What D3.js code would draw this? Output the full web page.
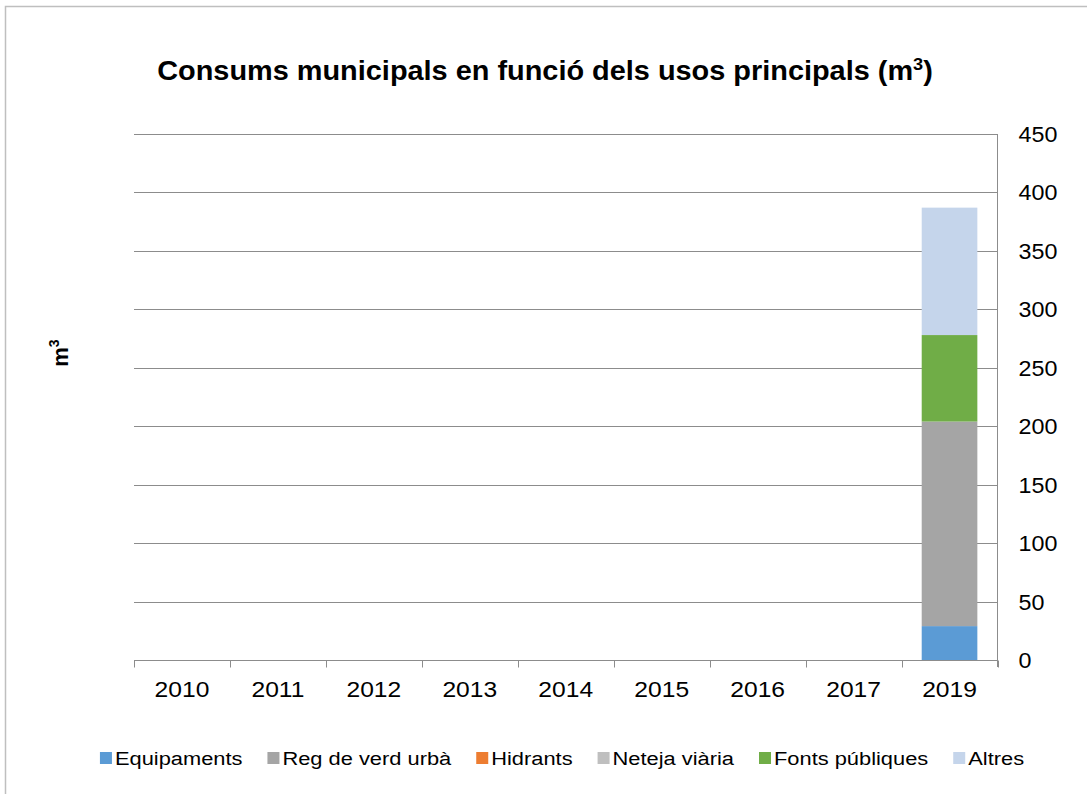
<!DOCTYPE html>
<html><head><meta charset="utf-8">
<script src="https://cdn.jsdelivr.net/npm/d3@7"></script>
<style>body{margin:0;background:#fff}svg{display:block}text{font-family:Arial,"Liberation Sans",sans-serif}</style>
</head><body>
<svg id="c" width="1087" height="794"></svg>
<script>
const years = ["2010","2011","2012","2013","2014","2015","2016","2017","2019"];
const seriesNames = ["Equipaments","Reg de verd urbà","Hidrants","Neteja viària","Fonts públiques","Altres"];
const seriesColors = ["#5B9BD5","#A5A5A5","#ED7D31","#BFBFBF","#70AD47","#C5D5EB"];
const equipaments = [0,0,0,0,0,0,0,0,29];
const regVerd     = [0,0,0,0,0,0,0,0,175];
const hidrants    = [0,0,0,0,0,0,0,0,0];
const netejaViaria= [0,0,0,0,0,0,0,0,0];
const fontsPubliques=[0,0,0,0,0,0,0,0,74];
const altres      = [0,0,0,0,0,0,0,0,109];
const yTicks = [0,50,100,150,200,250,300,350,400,450];
const titleText = "Consums municipals en funció dels usos principals (m";

const seriesVals = [equipaments,regVerd,hidrants,netejaViaria,fontsPubliques,altres];
const rows = years.map((y,i)=>{const r={year:y};seriesNames.forEach((s,k)=>r[s]=seriesVals[k][i]);return r;});
const stacked = d3.stack().keys(seriesNames)(rows);

const svg = d3.select("#c");
const L=134, R=997.5, T=134, B=660;
const x = d3.scaleBand().domain(years).range([L,R]).paddingInner(0.42).paddingOuter(0.21);
const xb = d3.scaleBand().domain(years).range([L,R]);
const y = d3.scaleLinear().domain([0,450]).range([B,T]);

function stext(sel, px, py, sx){
  return sel.append("text").attr("transform",`translate(${px},${py}) scale(${sx},1)`);
}

// outer border
svg.append("rect").attr("x",5.5).attr("y",6.5).attr("width",1100).attr("height",800)
  .attr("fill","none").attr("stroke","#bfbfbf").attr("stroke-width",1.5);

// gridlines
svg.append("g").selectAll("line").data(yTicks.filter(d=>d>0)).join("line")
  .attr("x1",L).attr("x2",R).attr("y1",d=>Math.round(y(d))+0.5).attr("y2",d=>Math.round(y(d))+0.5)
  .attr("stroke","#8c8c8c").attr("stroke-width",1);

// bars
svg.append("g").selectAll("g").data(stacked).join("g").attr("fill",(d,i)=>seriesColors[i])
  .selectAll("rect").data(d=>d).join("rect")
  .attr("x",d=>x(d.data.year)).attr("width",x.bandwidth())
  .attr("y",d=>y(d[1])).attr("height",d=>y(d[0])-y(d[1]));

// x axis
const gx = svg.append("g").attr("transform",`translate(0,${B+0.5})`);
gx.append("line").attr("x1",L).attr("x2",R).attr("stroke","#8c8c8c");
gx.selectAll("line.t").data(d3.range(years.length+1)).join("line").attr("class","t")
  .attr("x1",i=>Math.round(L+i*xb.step())+0.5).attr("x2",i=>Math.round(L+i*xb.step())+0.5)
  .attr("y1",0).attr("y2",7).attr("stroke","#8c8c8c");
years.forEach(d=>{
  stext(gx, xb(d)+xb.bandwidth()/2, 36, 1.12).attr("text-anchor","middle")
    .attr("font-size",22).attr("fill","#000").text(d);
});

// y axis right
const gy = svg.append("g").attr("transform",`translate(${R},0)`);
gy.append("line").attr("y1",T).attr("y2",B+7).attr("stroke","#8c8c8c");
yTicks.forEach(d=>{
  stext(gy, 21, y(d)+8, 1.06).attr("font-size",22).attr("fill","#000").text(d);
});

// title
const tt = stext(svg, 545, 80, 1.07).attr("text-anchor","middle")
  .attr("font-size",27).attr("font-weight","bold");
tt.append("tspan").text(titleText);
tt.append("tspan").attr("font-size",17).attr("dy",-10).text("3");
tt.append("tspan").attr("dy",10).text(")");

// y label
const yl = svg.append("text").attr("transform","translate(67.5,353) rotate(-90)").attr("text-anchor","middle")
  .attr("font-size",22).attr("font-weight","bold");
yl.append("tspan").text("m");
yl.append("tspan").attr("font-size",14).attr("dy",-9).text("3");

// legend
const lgSX = 1.15, gap = 25;
const lg = svg.append("g");
let cx=0;
seriesNames.forEach((s,i)=>{
  const g = lg.append("g").attr("transform",`translate(${cx},0)`);
  g.append("rect").attr("y",0).attr("width",12).attr("height",12).attr("fill",seriesColors[i]);
  const t = stext(g,15,13,lgSX).attr("font-size",19).text(s);
  cx += 15 + t.node().getComputedTextLength()*lgSX + gap;
});
const total = cx - gap;
lg.attr("transform",`translate(${562 - total/2},752)`);
</script>
</body></html>
